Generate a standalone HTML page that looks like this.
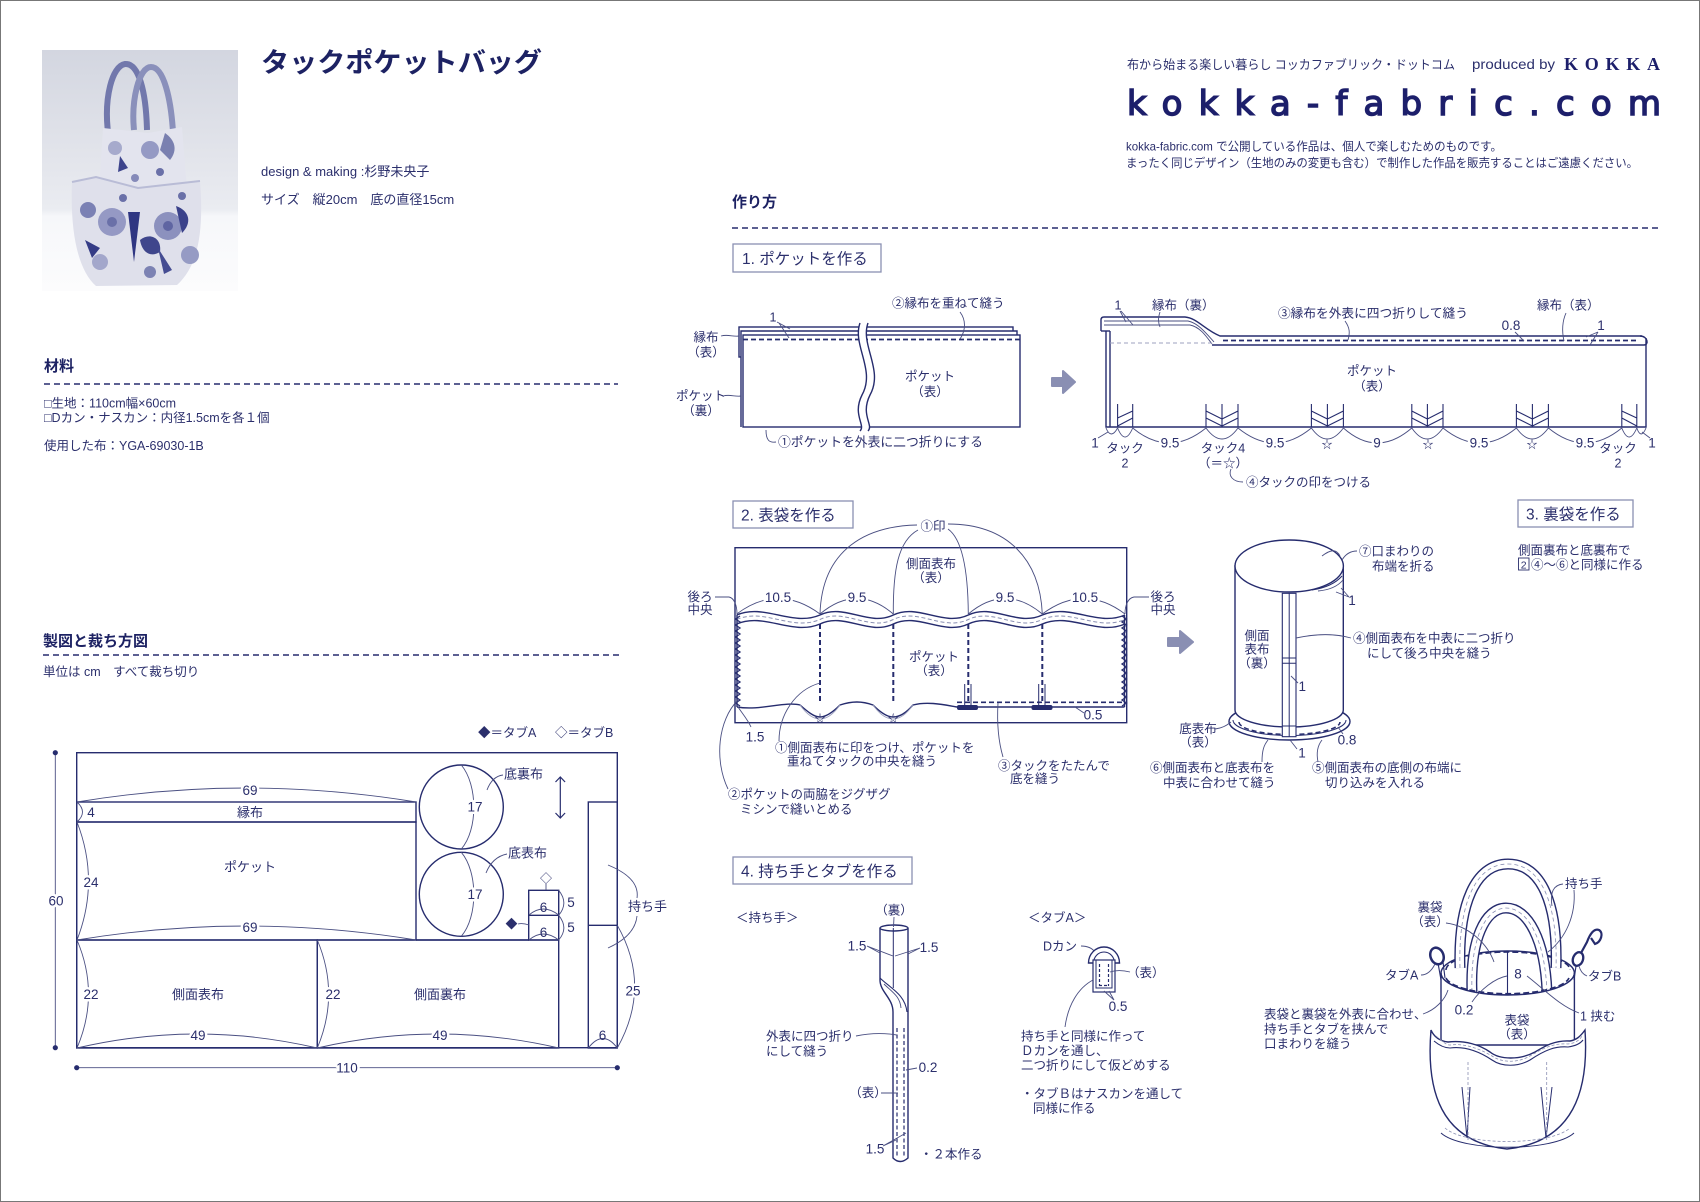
<!DOCTYPE html>
<html><head><meta charset="utf-8">
<style>
html,body{margin:0;padding:0;background:#fff;}
svg{display:block;}
text{font-family:"Liberation Sans","Noto Sans CJK JP",sans-serif;fill:#2b2f6c;font-size:12.5px;}
.m{font-size:13px;}
.n{font-size:13.5px;}
.ol{fill:none;stroke:#262c6e;stroke-width:1.4;}
.olw{fill:#fff;stroke:#262c6e;stroke-width:1.4;}
.ln{fill:none;stroke:#4a4f82;stroke-width:0.9;}
.ds{fill:none;stroke:#262c6e;stroke-width:1.7;stroke-dasharray:5 3;}
.w{stroke:#fff;stroke-width:5;paint-order:stroke;stroke-linejoin:round;}
.bx{fill:#fff;stroke:#8a90b2;stroke-width:1.3;}
.h{font-size:15.5px;}
.c{text-anchor:middle;}
.b{font-weight:bold;}
</style></head><body>
<svg width="1700" height="1202" viewBox="0 0 1700 1202" xmlns="http://www.w3.org/2000/svg">
<rect x="0" y="0" width="1700" height="1202" fill="#fff"/>
<rect x="0.5" y="0.5" width="1699" height="1201" fill="none" stroke="#777" stroke-width="1"/>

<!-- ===== PHOTO ===== -->
<defs>
<linearGradient id="pg" x1="0" y1="0" x2="0" y2="1">
<stop offset="0" stop-color="#d3d6e0"/><stop offset="0.4" stop-color="#e1e3ea"/><stop offset="0.66" stop-color="#eaecf1"/><stop offset="0.69" stop-color="#f6f7fa"/><stop offset="1" stop-color="#fcfcfd"/>
</linearGradient>
<clipPath id="pc"><rect x="42" y="50" width="196" height="241"/></clipPath>
</defs>
<rect x="42" y="50" width="196" height="241" fill="url(#pg)"/>
<g clip-path="url(#pc)">
<path d="M108,132 C104,98 112,66 125,64 C139,63 146,92 147,130" fill="none" stroke="#7278ac" stroke-width="6"/>
<path d="M134,130 C131,100 139,67 151,67 C164,67 171,100 173,132" fill="none" stroke="#8a90bb" stroke-width="6"/>
<path d="M103,128 L148,133 L182,127 L187,190 L99,192 Z" fill="#e3e4ee"/>
<circle cx="150" cy="150" r="9" fill="#959ac4"/><circle cx="115" cy="148" r="7" fill="#a6aacc"/>
<path d="M120,156 L128,168 L118,172 Z" fill="#3d448c"/><circle cx="160" cy="172" r="4" fill="#6a70a8"/>
<circle cx="135" cy="178" r="4" fill="#858ab9"/><path d="M165,133 C175,140 178,150 170,160 L160,150 Z" fill="#7a80b0"/>
<path d="M72,182 L96,177 L138,188 L200,181 C204,233 198,266 177,285 L96,286 C78,270 70,233 72,182 Z" fill="#dfe0eb"/>
<path d="M72,182 L96,177 L138,188 L200,181" fill="none" stroke="#b9bcd6" stroke-width="2"/>
<circle cx="112" cy="222" r="14" fill="#9599c4"/><circle cx="112" cy="222" r="5" fill="#6a70a8"/>
<circle cx="168" cy="226" r="14" fill="#8c91be"/><circle cx="168" cy="226" r="5" fill="#5f65a2"/>
<path d="M128,212 L134,262 L140,212 Z" fill="#2f3682"/><path d="M176,206 C190,211 192,223 182,233 Z" fill="#3a418a"/>
<circle cx="88" cy="210" r="8" fill="#7b81b4"/><path d="M140,240 C150,232 162,238 160,252 C150,258 142,252 140,240 Z" fill="#3f468c"/>
<circle cx="100" cy="262" r="8" fill="#a3a7cb"/><circle cx="150" cy="272" r="6" fill="#7c82b3"/>
<circle cx="190" cy="255" r="9" fill="#969bc4"/><path d="M85,240 L100,248 L92,258 Z" fill="#353c86"/>
<circle cx="123" cy="198" r="4" fill="#6a70a8"/><circle cx="182" cy="196" r="4" fill="#6a70a8"/>
<path d="M158,248 L172,270 L164,274 Z" fill="#454c92"/>
</g>

<!-- ===== LEFT HEADER ===== -->
<text x="261" y="72" class="b" style="font-size:27px;fill:#1d2263" textLength="281" lengthAdjust="spacingAndGlyphs">タックポケットバッグ</text>
<text x="261" y="176" class="m">design &amp; making :杉野未央子</text>
<text x="261" y="204" class="m">サイズ　縦20cm　底の直径15cm</text>

<text x="44" y="371" class="b" style="font-size:15px;fill:#1d2263">材料</text>
<line x1="44" y1="384" x2="618" y2="384" stroke="#262c6e" stroke-width="1.5" stroke-dasharray="6 4"/>
<text x="44" y="407.5">□生地：110cm幅×60cm</text>
<text x="44" y="422">□Dカン・ナスカン：内径1.5cmを各１個</text>
<text x="44" y="450">使用した布：YGA-69030-1B</text>

<text x="43" y="646" class="b" style="font-size:15px;fill:#1d2263">製図と裁ち方図</text>
<line x1="43" y1="655" x2="619" y2="655" stroke="#262c6e" stroke-width="1.5" stroke-dasharray="6 4"/>
<text x="43" y="676">単位は cm　すべて裁ち切り</text>

<!-- ===== CUTTING DIAGRAM ===== -->
<text x="478" y="737">◆＝タブA</text>
<text x="555" y="737">◇＝タブB</text>
<rect x="76.7" y="752.7" width="540.6" height="295" class="ol"/>
<rect x="76.7" y="802" width="339.3" height="20" class="ol"/>
<rect x="76.7" y="822" width="339.3" height="118" class="ol"/>
<rect x="76.7" y="940" width="240.6" height="108" class="ol"/>
<rect x="317.3" y="940" width="241.4" height="108" class="ol"/>
<line x1="416" y1="940" x2="529" y2="940" class="ol"/>
<rect x="528.7" y="890.3" width="30" height="49.7" class="ol"/>
<line x1="528.7" y1="915.3" x2="558.7" y2="915.3" class="ol"/>
<rect x="588.3" y="802" width="29" height="246" class="ol"/>
<line x1="588.3" y1="925.3" x2="617.3" y2="925.3" class="ol"/>
<circle cx="461.3" cy="807" r="42" class="ol"/>
<circle cx="461.3" cy="894.3" r="42" class="ol"/>
<path d="M461.3,765 C478,785 478,830 461.3,849" class="ln"/>
<path d="M461.3,852.3 C478,872 478,917 461.3,936.3" class="ln"/>
<text x="475" y="811.5" class="n c w">17</text>
<text x="475" y="899" class="n c w">17</text>
<path d="M77,802 Q246,774 416,802" class="ln"/><text x="250" y="795" class="n c w">69</text>
<path d="M77,802 Q88,812 77,822" class="ln"/><text x="91" y="817" class="n c">4</text>
<text x="250" y="817" class="c m">縁布</text>
<path d="M77,822 Q100,881 77,940" class="ln"/><text x="91" y="887" class="n c w">24</text>
<text x="250" y="871.5" class="c m">ポケット</text>
<path d="M77,940 Q246,912 416,940" class="ln"/><text x="250" y="932" class="n c w">69</text>
<path d="M77,940 Q100,994 77,1048" class="ln"/><text x="91" y="999" class="n c w">22</text>
<path d="M317.3,940 Q340,994 317.3,1048" class="ln"/><text x="333" y="999" class="n c w">22</text>
<text x="198" y="999" class="c m">側面表布</text>
<text x="440" y="999" class="c m">側面裏布</text>
<path d="M77,1048 Q197,1020 317.3,1048" class="ln"/><text x="198" y="1040" class="n c w">49</text>
<path d="M317.3,1048 Q438,1020 558.7,1048" class="ln"/><text x="440" y="1040" class="n c w">49</text>
<line x1="55.3" y1="752.7" x2="55.3" y2="1047.7" class="ln"/>
<circle cx="55.3" cy="752.7" r="2.6" fill="#262c6e"/><circle cx="55.3" cy="1047.7" r="2.6" fill="#262c6e"/>
<text x="56" y="905.5" class="n c w">60</text>
<line x1="76.7" y1="1067.7" x2="617.3" y2="1067.7" class="ln"/>
<circle cx="76.7" cy="1067.7" r="2.6" fill="#262c6e"/><circle cx="617.3" cy="1067.7" r="2.6" fill="#262c6e"/>
<text x="347" y="1072.5" class="n c w">110</text>
<path d="M529,915 Q543,903 558.7,915" class="ln"/><text x="543.5" y="912" class="n c">6</text>
<path d="M529,940 Q543,928 558.7,940" class="ln"/><text x="543.5" y="937" class="n c">6</text>
<path d="M558.7,890.3 Q569,903 558.7,915.3" class="ln"/><text x="571" y="907" class="n c">5</text>
<path d="M558.7,915.3 Q569,928 558.7,940" class="ln"/><text x="571" y="932" class="n c">5</text>
<text x="546" y="882.5" class="c" style="font-size:12px">◇</text>
<line x1="546" y1="884" x2="546" y2="890" class="ln"/>
<text x="511.5" y="928" class="c" style="font-size:12px">◆</text>
<path d="M518,924 C522,923 526,924 529,925" class="ln"/>
<line x1="560.3" y1="777" x2="560.3" y2="818" stroke="#262c6e" stroke-width="1.2"/>
<path d="M555.5,782 L560.3,777 L565.1,782 M555.5,813 L560.3,818 L565.1,813" fill="none" stroke="#262c6e" stroke-width="1.2"/>
<text x="504" y="778.5" class="m">底裏布</text>
<path d="M503,775 C495,776 490,782 487,790" class="ln"/>
<text x="508" y="857.5" class="m">底表布</text>
<path d="M507,854 C497,856 490,863 486,873" class="ln"/>
<text x="628" y="911" class="m">持ち手</text>
<path d="M608,865 Q640,878 637,898" class="ln"/>
<path d="M637,916 Q635,936 608,948" class="ln"/>
<path d="M617.3,925.3 Q652,986 617.3,1048" class="ln"/><text x="633" y="995.5" class="n c w">25</text>
<path d="M588.3,1048 Q603,1029 617.3,1048" class="ln"/><text x="602.5" y="1040" class="n c">6</text>

<!-- ===== RIGHT HEADER ===== -->
<text x="1127" y="69" textLength="328" lengthAdjust="spacingAndGlyphs">布から始まる楽しい暮らし コッカファブリック・ドットコム</text>
<text x="1472" y="69" style="font-size:13.5px" textLength="83" lengthAdjust="spacingAndGlyphs">produced by</text>
<text x="1564" y="70" class="b" style="font-family:'Liberation Serif',serif;font-size:18px;fill:#1d1f6b" textLength="96" lengthAdjust="spacing">KOKKA</text>
<text x="1127" y="115" style="font-family:'DejaVu Sans','Liberation Sans',sans-serif;font-size:34px;fill:#1d1f6b;stroke:#1d1f6b;stroke-width:1.5" textLength="534" lengthAdjust="spacing">kokka-fabric.com</text>
<text x="1126" y="150.5" style="font-size:12px" textLength="376" lengthAdjust="spacingAndGlyphs">kokka-fabric.com で公開している作品は、個人で楽しむためのものです。</text>
<text x="1126" y="167" style="font-size:12px" textLength="512" lengthAdjust="spacingAndGlyphs">まったく同じデザイン（生地のみの変更も含む）で制作した作品を販売することはご遠慮ください。</text>

<text x="732" y="207" class="b" style="font-size:15px;fill:#1d2263">作り方</text>
<line x1="732" y1="228" x2="1660" y2="228" stroke="#262c6e" stroke-width="1.5" stroke-dasharray="6 4"/>

<!-- ===== SECTION 1 ===== -->
<rect x="733" y="244" width="148" height="28" class="bx"/>
<text x="742" y="264" class="h">1. ポケットを作る</text>

<rect x="739" y="327" width="274" height="30" class="olw"/>
<path d="M741,427 L741,331 L1017,331 L1017,335" class="olw"/>
<rect x="743" y="335" width="277" height="92" class="olw"/>
<line x1="743" y1="339.5" x2="1020" y2="339.5" class="ds"/>
<path d="M860,323 C852,345 876,370 862,395 C852,415 866,425 860,431 L868,431 C874,425 860,415 870,395 C884,370 860,345 868,323 Z" fill="#fff"/>
<path d="M860,323 C852,345 876,370 862,395 C852,415 866,425 860,431" class="ol"/>
<path d="M868,323 C860,345 884,370 870,395 C860,415 874,425 868,431" class="ol"/>
<text x="892" y="307.5">②縁布を重ねて縫う</text>
<path d="M960,312 C966,320 966,330 960,339" class="ln"/>
<text x="773" y="321.5" class="c">1</text>
<path d="M777,322 L790,329 M779,323 L789,338" class="ln"/>
<text x="706" y="341.5" class="c">縁布</text><text x="706" y="356.5" class="c">（表）</text>
<path d="M721,336 C728,334 733,337 739,336" class="ln"/>
<text x="701" y="400" class="c">ポケット</text><text x="701" y="415" class="c">（裏）</text>
<path d="M723,396 C730,394 735,397 741,396" class="ln"/>
<text x="930" y="380.5" class="c">ポケット</text><text x="930" y="396" class="c">（表）</text>
<text x="778" y="446.5" style="font-size:12.8px">①ポケットを外表に二つ折りにする</text>
<path d="M766,430 C766,440 769,443 776,442" class="ln"/>
<path d="M1052,378 L1063,378 L1063,371 L1075,382 L1063,393 L1063,386 L1052,386 Z" fill="#8a8fb3" stroke="#8a8fb3" stroke-width="2" stroke-linejoin="round"/>

<path d="M1101,331 L1101,320 Q1101,317 1104,317 L1185,317 C1197,318 1205,330 1220,336 L1642,336" class="ol"/>
<path d="M1104,321 L1188,321 C1198,323 1206,333 1214,342" class="ln"/>
<path d="M1104,325 L1190,325 C1200,327 1206,336 1212,344" class="ln"/>
<line x1="1101" y1="331" x2="1110" y2="331" class="ol"/>
<path d="M1106,331 L1106,427 L1646,427 L1646,338" class="ol"/>
<line x1="1110" y1="331" x2="1110" y2="427" class="ol"/>
<line x1="1212" y1="345" x2="1644" y2="345" class="ol"/>
<line x1="1110" y1="343" x2="1212" y2="343" stroke="#9da1bf" stroke-width="1" stroke-dasharray="4 3"/>
<line x1="1223" y1="340.5" x2="1638" y2="340.5" class="ds"/>
<path d="M1640,336 C1648,336 1649,345 1644,345" class="ol"/>
<g class="ol" style="stroke-width:1.1">
<path d="M1117.6,404 L1117.6,427 M1132.7,404 L1132.7,427 M1117.6,418 L1132.7,411 M1117.6,426 L1132.7,418"/>
<path d="M1206,404 L1206,427 M1222,404 L1222,427 M1238,404 L1238,427 M1206,411 L1222,419 L1238,411 M1206,418 L1222,426 L1238,418"/>
<path d="M1311.4,404 L1311.4,427 M1327.4,404 L1327.4,427 M1343.4,404 L1343.4,427 M1311.4,411 L1327.4,419 L1343.4,411 M1311.4,418 L1327.4,426 L1343.4,418"/>
<path d="M1411.8,404 L1411.8,427 M1427.4,404 L1427.4,427 M1443,404 L1443,427 M1411.8,411 L1427.4,419 L1443,411 M1411.8,418 L1427.4,426 L1443,418"/>
<path d="M1516.4,404 L1516.4,427 M1532.4,404 L1532.4,427 M1548.4,404 L1548.4,427 M1516.4,411 L1532.4,419 L1548.4,411 M1516.4,418 L1532.4,426 L1548.4,418"/>
<path d="M1621.8,404 L1621.8,427 M1636.8,404 L1636.8,427 M1621.8,411 L1636.8,418 M1621.8,418 L1636.8,426"/>
</g>
<g class="ln">
<path d="M1106,428 Q1111,440 1117.6,428"/>
<path d="M1117.6,428 Q1125,446 1132.7,428"/>
<path d="M1132.7,428 Q1169,458 1206,428"/>
<path d="M1206,428 Q1222,450 1238,428"/>
<path d="M1238,428 Q1275,458 1311.4,428"/>
<path d="M1311.4,428 Q1327,450 1343.4,428"/>
<path d="M1343.4,428 Q1377,458 1411.8,428"/>
<path d="M1411.8,428 Q1427,450 1443,428"/>
<path d="M1443,428 Q1480,458 1516.4,428"/>
<path d="M1516.4,428 Q1532,450 1548.4,428"/>
<path d="M1548.4,428 Q1585,458 1621.8,428"/>
<path d="M1621.8,428 Q1629,446 1636.8,428"/>
<path d="M1636.8,428 Q1641,440 1646,428"/>
<path d="M1098,438 L1108,432"/><path d="M1650,438 L1642,432"/>
</g>
<text x="1095" y="447.5" class="n c">1</text>
<text x="1652" y="447.5" class="n c">1</text>
<text x="1170" y="447.5" class="n c w">9.5</text>
<text x="1275" y="447.5" class="n c w">9.5</text>
<text x="1377" y="447.5" class="n c w">9</text>
<text x="1479" y="447.5" class="n c w">9.5</text>
<text x="1585" y="447.5" class="n c w">9.5</text>
<text x="1327" y="448" class="c" style="font-size:11px">☆</text>
<text x="1428" y="448" class="c" style="font-size:11px">☆</text>
<text x="1532" y="448" class="c" style="font-size:11px">☆</text>
<text x="1125" y="452.5" class="c w">タック</text><text x="1125" y="467.5" class="c">2</text>
<text x="1223" y="452.5" class="c w">タック4</text><text x="1223" y="467.5" class="c">（＝☆）</text>
<text x="1618" y="452.5" class="c w">タック</text><text x="1618" y="467.5" class="c">2</text>
<text x="1246" y="486.5">④タックの印をつける</text>
<path d="M1243,482 C1233,482 1228,476 1231,469" class="ln"/>
<text x="1118" y="309.5" class="c">1</text>
<path d="M1120,311 L1126,322 M1121,311 L1133,325" class="ln"/>
<text x="1152" y="309.5">縁布（裏）</text>
<path d="M1160,312 C1158,318 1158,322 1160,327" class="ln"/>
<text x="1278" y="317.5" style="font-size:12.7px">③縁布を外表に四つ折りして縫う</text>
<path d="M1345,321 C1350,328 1350,333 1348,340" class="ln"/>
<text x="1537" y="309.5">縁布（表）</text>
<path d="M1566,313 C1562,322 1562,332 1564,341" class="ln"/>
<text x="1511" y="330" class="n c">0.8</text>
<path d="M1515,332 L1524,341" class="ln"/>
<text x="1601" y="330" class="n c">1</text>
<path d="M1598,332 L1586,337 M1598,332 L1590,345" class="ln"/>
<text x="1372" y="375" class="c">ポケット</text><text x="1372" y="390.5" class="c">（表）</text>

<!-- ===== SECTION 2 ===== -->
<rect x="733" y="501" width="120" height="27" class="bx"/>
<text x="741" y="520.5" class="h">2. 表袋を作る</text>
<rect x="735" y="547.7" width="391.7" height="175" class="ol"/>
<path d="M736.7,615 C764,603 792,627 820,615 C844,603 869,627 893.3,615 C918,603 943,627 968.3,615 C993,603 1017,627 1042.3,615 C1070,603 1097,627 1125,615" class="ol"/>
<path d="M736.7,619.5 C764,607.5 792,631.5 820,619.5 C844,607.5 869,631.5 893.3,619.5 C918,607.5 943,631.5 968.3,619.5 C993,607.5 1017,631.5 1042.3,619.5 C1070,607.5 1097,631.5 1125,619.5" fill="none" stroke="#8a8fb3" stroke-width="1" stroke-dasharray="4 2.5"/>
<path d="M736.7,624 C764,612 792,636 820,624 C844,612 869,636 893.3,624 C918,612 943,636 968.3,624 C993,612 1017,636 1042.3,624 C1070,612 1097,636 1125,624" class="ol"/>
<line x1="737" y1="615" x2="737" y2="707" class="ol"/>
<line x1="1124.5" y1="615" x2="1124.5" y2="707" class="ol"/>
<polyline points="740,616 735.5,619 740,622 735.5,625 740,628 735.5,631 740,634 735.5,637 740,640 735.5,643 740,646 735.5,649 740,652 735.5,655 740,658 735.5,661 740,664 735.5,667 740,670 735.5,673 740,676 735.5,679 740,682 735.5,685 740,688 735.5,691 740,694 735.5,697 740,700 735.5,703 740,706" fill="none" stroke="#262c6e" stroke-width="1.3"/>
<polyline points="1122,616 1126.5,619 1122,622 1126.5,625 1122,628 1126.5,631 1122,634 1126.5,637 1122,640 1126.5,643 1122,646 1126.5,649 1122,652 1126.5,655 1122,658 1126.5,661 1122,664 1126.5,667 1122,670 1126.5,673 1122,676 1126.5,679 1122,682 1126.5,685 1122,688 1126.5,691 1122,694 1126.5,697 1122,700 1126.5,703 1122,706" fill="none" stroke="#262c6e" stroke-width="1.3"/>
<path d="M737,707 C760,711 785,701 800,705 C808,712 814,717 820,717 C826,717 833,712 840,705 C852,701 862,701 873,705 C880,712 887,717 893,717 C900,717 907,712 913,705 C928,701 945,705 957,707 L1124.5,707" class="ol"/>
<path d="M800,705 Q820,733 840,705 M873,705 Q893,733 913,705" class="ln" style="stroke:#9da1bf"/>
<line x1="957" y1="702.3" x2="1123" y2="702.3" class="ds"/>
<line x1="820" y1="624" x2="820" y2="704" class="ds" style="stroke-width:2"/>
<line x1="893.3" y1="624" x2="893.3" y2="704" class="ds" style="stroke-width:2"/>
<line x1="968.3" y1="624" x2="968.3" y2="702" class="ds" style="stroke-width:2"/>
<line x1="1042.3" y1="624" x2="1042.3" y2="702" class="ds" style="stroke-width:2"/>
<path d="M964.7,684 L964.7,705 M971,684 L971,705 M1038.7,684 L1038.7,705 M1045,684 L1045,705" class="ol" style="stroke-width:1"/>
<rect x="957" y="705" width="21" height="5" rx="2" fill="#262c6e"/>
<rect x="1031.5" y="705" width="21" height="5" rx="2" fill="#262c6e"/>
<text x="820" y="722" class="c" style="font-size:11px">☆</text>
<text x="893.3" y="722" class="c" style="font-size:11px">☆</text>
<g class="ln">
<path d="M917,525 C868,526 822,548 820,614"/>
<path d="M918,530 C898,541 893,570 893.3,614"/>
<path d="M948,529 C962,539 968,570 968.3,614"/>
<path d="M948,524 C1008,524 1040,560 1042.3,614"/>
<path d="M736.7,614 Q778,583 820,614"/>
<path d="M820,614 Q857,583 893.3,614"/>
<path d="M968.3,614 Q1005,583 1042.3,614"/>
<path d="M1042.3,614 Q1084,583 1125,614"/>
<path d="M715,597 L729,597 C734,598 737,605 737,614"/>
<path d="M1149,597 L1134,597 C1128,598 1125,605 1125,614"/>
<path d="M738,707 C742,713 748,720 751,727"/>
<path d="M779,741 C779,715 795,690 820,683"/>
<path d="M728,789 C714,760 718,720 738,700"/>
<path d="M1003,757 C998,740 997,720 998,703"/>
<path d="M1075,707 L1084,713"/>
</g>
<text x="933" y="530.5" class="c w">①印</text>
<text x="931" y="568" class="c">側面表布</text><text x="931" y="582" class="c">（表）</text>
<text x="700" y="601" class="c">後ろ</text><text x="700" y="614" class="c">中央</text>
<text x="1163" y="601" class="c">後ろ</text><text x="1163" y="614" class="c">中央</text>
<text x="778" y="602" class="n c w">10.5</text>
<text x="857" y="602" class="n c w">9.5</text>
<text x="1005" y="602" class="n c w">9.5</text>
<text x="1085" y="602" class="n c w">10.5</text>
<text x="934" y="661" class="c">ポケット</text><text x="934" y="675" class="c">（表）</text>
<text x="1093" y="719.5" class="n c">0.5</text>
<text x="755" y="741.5" class="n c">1.5</text>
<text x="775" y="752">①側面表布に印をつけ、ポケットを</text>
<text x="787" y="765.5">重ねてタックの中央を縫う</text>
<text x="998" y="770">③タックをたたんで</text>
<text x="1010" y="783">底を縫う</text>
<text x="728" y="798.5">②ポケットの両脇をジグザグ</text>
<text x="740" y="813.5">ミシンで縫いとめる</text>
<path d="M1168,638 L1180,638 L1180,631 L1193,642 L1180,653 L1180,646 L1168,646 Z" fill="#8a8fb3" stroke="#8a8fb3" stroke-width="2" stroke-linejoin="round"/>
<ellipse cx="1289.5" cy="721.5" rx="60.5" ry="18.5" class="olw"/>
<path d="M1233,720 A56.5,15.5 0 0 0 1346,720" class="ol" style="stroke-width:1"/>
<path d="M1239,722 A50.5,12.5 0 0 0 1340,722" class="ds" style="stroke-width:1.5"/>
<path d="M1235,566 L1235,710 A54.15,17 0 0 0 1343.3,710 L1343.3,566 Z" class="olw"/>
<ellipse cx="1289.2" cy="566" rx="54.2" ry="26" class="olw"/>
<path d="M1322,556 C1330,550 1336,548 1340,556" class="ln"/>
<path d="M1312,590 C1325,588 1335,584 1342,576" class="ol" style="stroke-width:1"/>
<path d="M1318,591 C1330,590 1338,586 1343,580" class="ln"/>
<rect x="1282.3" y="593.3" width="13.7" height="143.4" class="olw" style="stroke-width:1.1"/>
<line x1="1289.2" y1="593.3" x2="1289.2" y2="736.7" class="ol" style="stroke-width:1"/>
<path d="M1282.3,658 L1296,658 M1282.3,663.3 L1296,663.3 M1282.3,726 L1296,726" class="ol" style="stroke-width:1"/>
<text x="1257" y="640" class="c">側面</text><text x="1257" y="653.5" class="c">表布</text><text x="1257" y="667.5" class="c">（裏）</text>
<text x="1302.3" y="691" class="n c">1</text>
<path d="M1298,683 L1291,676" class="ln"/>
<text x="1352" y="605" class="n c">1</text>
<path d="M1349,597 L1341,588 M1349,597 L1336,592" class="ln"/>
<text x="1359" y="555.5">⑦口まわりの</text><text x="1372" y="570.5">布端を折る</text>
<path d="M1357,551 C1350,551 1345,555 1342,560" class="ln"/>
<text x="1353" y="642.7">④側面表布を中表に二つ折り</text><text x="1367" y="657.7">にして後ろ中央を縫う</text>
<path d="M1351,638 C1330,632 1310,635 1296,638" class="ln"/>
<text x="1198" y="733" class="c">底表布</text><text x="1198" y="746.5" class="c">（表）</text>
<path d="M1215,729 C1222,728 1226,726 1231,722" class="ln"/>
<text x="1347" y="744.5" class="n c">0.8</text>
<path d="M1343,734 L1338,727" class="ln"/>
<text x="1302" y="757.5" class="n c">1</text>
<path d="M1297,749 L1290,740" class="ln"/>
<text x="1150" y="772">⑥側面表布と底表布を</text><text x="1163" y="787">中表に合わせて縫う</text>
<path d="M1262,762 C1262,750 1264,745 1268,740" class="ln"/>
<text x="1312" y="772">⑤側面表布の底側の布端に</text><text x="1325" y="787">切り込みを入れる</text>
<path d="M1318,762 C1316,752 1318,745 1322,740" class="ln"/>

<!-- ===== SECTION 3 ===== -->
<rect x="1518" y="500" width="115" height="27" class="bx"/>
<text x="1526" y="519.5" class="h">3. 裏袋を作る</text>
<text x="1518" y="554.5">側面裏布と底裏布で</text>
<rect x="1518.5" y="558" width="10.5" height="12" fill="none" stroke="#2b2f6c" stroke-width="0.9"/>
<text x="1523.7" y="568.5" class="c" style="font-size:10.5px">2</text>
<text x="1531" y="569">④〜⑥と同様に作る</text>

<!-- ===== SECTION 4 ===== -->
<rect x="733" y="857" width="179" height="27" class="bx"/>
<text x="741" y="876.5" class="h">4. 持ち手とタブを作る</text>
<text x="736" y="922">＜持ち手＞</text>
<path d="M880,928 L880,980 C880,992 893,998 893,1012 L893,1158 Q900,1165 908,1158 L908,928" class="olw"/>
<ellipse cx="894" cy="928" rx="14" ry="3" class="olw"/>
<path d="M880,978 C890,988 905,994 907,1012" class="ol" style="stroke-width:1.1"/>
<path d="M884,984 C892,992 900,996 901,1008" class="ln"/>
<line x1="893.3" y1="928" x2="893.3" y2="988" class="ol" style="stroke-width:1"/>
<line x1="897" y1="1028" x2="897" y2="1156" class="ds" style="stroke-width:1.2;stroke-dasharray:4 2.5"/>
<line x1="904" y1="1028" x2="904" y2="1156" class="ds" style="stroke-width:1.2;stroke-dasharray:4 2.5"/>
<text x="894" y="914.5" class="c">（裏）</text>
<line x1="894" y1="917" x2="893.5" y2="927" class="ln"/>
<text x="857" y="950.5" class="n c">1.5</text>
<path d="M867,946 L880,953 M867,946 L893,956" class="ln"/>
<text x="929" y="952" class="n c">1.5</text>
<path d="M920,948 L908,954 M920,948 L895,956" class="ln"/>
<text x="766" y="1040.5">外表に四つ折り</text><text x="766" y="1055.5">にして縫う</text>
<path d="M856,1036 C870,1033 885,1033 897,1035" class="ln"/>
<text x="928" y="1072" class="n c">0.2</text>
<path d="M917,1068 L906,1070" class="ln"/>
<text x="868" y="1097" class="c">（表）</text>
<path d="M881,1093 L898,1093" class="ln"/>
<text x="875" y="1153.5" class="n c">1.5</text>
<path d="M883,1146 L896,1140 M883,1146 L906,1133" class="ln"/>
<text x="920" y="1158.5">・２本作る</text>
<text x="1028" y="922">＜タブA＞</text>
<text x="1043" y="950.5">Dカン</text>
<path d="M1081,946 C1088,946 1092,948 1095,952" class="ln"/>
<path d="M1088.5,963 A15.5,16 0 0 1 1119.5,963 Z" class="olw"/>
<path d="M1093.5,963 A10.5,11 0 0 1 1114.5,963" class="ol" style="stroke-width:1.1"/>
<rect x="1093" y="960" width="22" height="32" class="olw" style="stroke-width:1.2"/>
<rect x="1096" y="960" width="16" height="28" class="ol" style="stroke-width:1"/>
<line x1="1099.5" y1="964" x2="1099.5" y2="986" class="ds" style="stroke-width:1.2;stroke-dasharray:3 2"/>
<line x1="1108.5" y1="964" x2="1108.5" y2="986" class="ds" style="stroke-width:1.2;stroke-dasharray:3 2"/>
<line x1="1099" y1="985.5" x2="1109" y2="985.5" class="ds" style="stroke-width:1.2;stroke-dasharray:3 2"/>
<text x="1127" y="977">（表）</text>
<path d="M1130,972 C1122,970 1116,970 1110,972" class="ln"/>
<text x="1118" y="1011" class="n c">0.5</text>
<path d="M1114,1000 L1109,991 M1114,1000 L1104,991" class="ln"/>
<path d="M1065,1027 C1068,1005 1078,988 1093,980" class="ln"/>
<text x="1021" y="1040.5">持ち手と同様に作って</text>
<text x="1021" y="1055">Ｄカンを通し、</text>
<text x="1021" y="1069.5">二つ折りにして仮どめする</text>
<text x="1021" y="1098">・タブＢはナスカンを通して</text>
<text x="1033" y="1112.5">同様に作る</text>

<!-- ===== BAG ===== -->
<ellipse cx="1507.7" cy="973" rx="66.7" ry="22" class="olw"/>
<path d="M1446,970 A62,18 0 0 1 1570,970" fill="none" stroke="#262c6e" stroke-width="1.6" stroke-dasharray="6 3"/>
<path d="M1460,968 C1458,905 1475,864 1508,864 C1542,864 1558,905 1556,968" fill="none" stroke="#262c6e" stroke-width="11"/>
<path d="M1460,968 C1458,905 1475,864 1508,864 C1542,864 1558,905 1556,968" fill="none" stroke="#fff" stroke-width="8.2"/>
<path d="M1460,968 C1458,905 1475,864 1508,864 C1542,864 1558,905 1556,968" fill="none" stroke="#8a8fb3" stroke-width="0.8" stroke-dasharray="4 3"/>
<path d="M1472,992 C1470,940 1485,908 1506,908 C1528,908 1545,940 1547,992" fill="none" stroke="#262c6e" stroke-width="11"/>
<path d="M1472,992 C1470,940 1485,908 1506,908 C1528,908 1545,940 1547,992" fill="none" stroke="#fff" stroke-width="8.2"/>
<path d="M1472,992 C1470,940 1485,908 1506,908 C1528,908 1545,940 1547,992" fill="none" stroke="#8a8fb3" stroke-width="0.8" stroke-dasharray="4 3"/>
<line x1="1507.5" y1="952" x2="1507.5" y2="995" class="ol" style="stroke-width:1.1"/>
<path d="M1441,973 A66.7,22 0 0 0 1574.4,973 L1574.4,1045 L1441,1045 Z" class="olw"/>
<path d="M1446,978 A62,18 0 0 0 1569,978" fill="none" stroke="#262c6e" stroke-width="1.6" stroke-dasharray="6 3"/>
<path d="M1431,1030 C1426,1090 1440,1142 1507,1149 C1574,1142 1589,1090 1585,1030 C1580,1037 1576,1040 1570,1041 C1555,1040 1545,1046 1535,1052 C1520,1060 1500,1060 1490,1052 C1480,1045 1465,1040 1448,1042 C1440,1041 1434,1037 1431,1030 Z" class="olw"/>
<path d="M1434,1041 C1440,1046 1445,1048 1450,1048 C1465,1046 1480,1052 1492,1060 C1502,1067 1518,1067 1530,1060 C1545,1050 1555,1046 1568,1047 C1575,1046 1580,1044 1583,1040" class="ol" style="stroke-width:1.1"/>
<path d="M1436,1036 C1442,1041 1446,1045 1450,1045 C1465,1043 1480,1049 1492,1056 C1502,1063 1518,1063 1530,1056 C1545,1047 1555,1043 1568,1044 C1575,1043 1579,1041 1582,1036" fill="none" stroke="#8a8fb3" stroke-width="0.8" stroke-dasharray="3 2"/>
<path d="M1462,1087 L1467,1138 L1470,1087 M1541,1087 L1546,1138 L1552,1087" class="ol" style="stroke-width:1"/>
<path d="M1468,1062 L1468,1140 M1546.7,1062 L1546.7,1140" fill="none" stroke="#8a8fb3" stroke-width="0.8" stroke-dasharray="3 2"/>
<path d="M1445,1128 C1465,1146 1550,1146 1570,1128" fill="none" stroke="#8a8fb3" stroke-width="0.8" stroke-dasharray="3 2"/>
<path d="M1441,1133 C1462,1152 1553,1152 1574,1133" class="ol" style="stroke-width:1"/>
<ellipse cx="1437" cy="956" rx="6.5" ry="8.5" transform="rotate(-20 1437 956)" fill="#fff" stroke="#262c6e" stroke-width="2.5"/>
<path d="M1438,963 L1441,980 M1443,962 L1445,978" class="ol" style="stroke-width:1.1"/>
<ellipse cx="1578" cy="959" rx="5" ry="7" transform="rotate(20 1578 959)" fill="#fff" stroke="#262c6e" stroke-width="2.3"/>
<path d="M1581,953 L1587,942 C1590,934 1594,928 1599,930 C1604,933 1601,942 1595,944 L1591,938" fill="none" stroke="#262c6e" stroke-width="2.2"/>
<path d="M1576,966 L1574,980" class="ol" style="stroke-width:1.1"/>
<text x="1565" y="888">持ち手</text>
<path d="M1563,884 C1553,885 1550,893 1552,906" class="ln"/>
<path d="M1574,890 C1576,915 1566,938 1548,952" class="ln"/>
<text x="1430" y="911.5" class="c">裏袋</text><text x="1430" y="926" class="c">（表）</text>
<path d="M1446,923 C1470,926 1488,945 1494,962" class="ln"/>
<text x="1385" y="979.5">タブA</text>
<path d="M1421,975 C1428,975 1432,970 1435,964" class="ln"/>
<text x="1588" y="980.5">タブB</text>
<path d="M1587,976 C1582,974 1580,970 1579,966" class="ln"/>
<text x="1518" y="978.5" class="n c">8</text>
<path d="M1472,1002 C1480,990 1495,978 1507,976" class="ln"/>
<path d="M1579,1013 C1560,1006 1545,990 1527,976" class="ln"/>
<text x="1464" y="1014.5" class="n c">0.2</text>
<text x="1580" y="1020.5">1 挟む</text>
<text x="1517" y="1024.5" class="c">表袋</text><text x="1517" y="1038.5" class="c">（表）</text>
<text x="1264" y="1018.5">表袋と裏袋を外表に合わせ、</text>
<text x="1264" y="1033.5">持ち手とタブを挟んで</text>
<text x="1264" y="1048">口まわりを縫う</text>
<path d="M1423,1014 C1435,1010 1445,1000 1448,990" class="ln"/>
</svg>
</body></html>
